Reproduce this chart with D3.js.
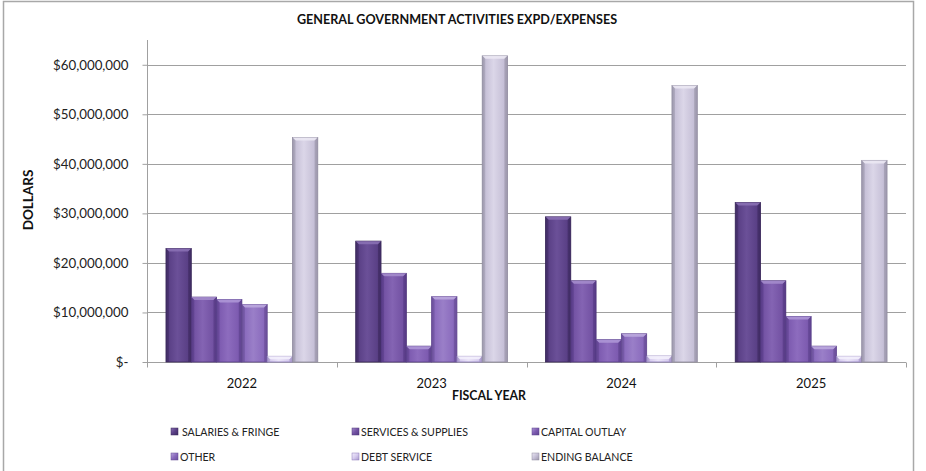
<!DOCTYPE html>
<html>
<head>
<meta charset="utf-8">
<script src="https://cdn.jsdelivr.net/npm/d3@7/dist/d3.min.js"></script>
<style>
  html, body { margin: 0; padding: 0; background: #fff; }
  svg { display: block; font-family: Lato, "Open Sans", sans-serif; }
</style>
</head>
<body>
<svg id="chart" width="926" height="471"></svg>
<script>
// Fiscal years on the category axis
const years = ["2022", "2023", "2024", "2025"];

// Expense / balance series
const seriesNames = ["SALARIES & FRINGE", "SERVICES & SUPPLIES", "CAPITAL OUTLAY", "OTHER", "DEBT SERVICE", "ENDING BALANCE"];

// Values in dollars, one entry per fiscal year
const salaries  = [22900000, 24400000, 29300000, 32200000];
const services  = [13100000, 17900000, 16400000, 16400000];
const capital   = [12600000,  3200000,  4500000,  9200000];
const other     = [11600000, 13200000,  5700000,  3200000];
const debt      = [ 1150000,  1150000,  1200000,  1150000];
const ending    = [45300000, 61800000, 55800000, 40700000];

// Dollar axis ticks
const yTicks = [0, 10000000, 20000000, 30000000, 40000000, 50000000, 60000000];

const seriesValues = [salaries, services, capital, other, debt, ending];

// Fill palettes per series: edge, body, highlight, bevel, outline
const palettes = [
  { edge: "#3f2b63", body: "#5a4086", hi: "#6b5098", bevel: "#8a70b4", line: "#3a2858" },
  { edge: "#563a85", body: "#7352a3", hi: "#8464b3", bevel: "#a48ccc", line: "#4e3578" },
  { edge: "#5f4290", body: "#7d5bb0", hi: "#8d6cbe", bevel: "#ad96d6", line: "#57408a" },
  { edge: "#6a4f9a", body: "#8a6bbd", hi: "#9a7fc8", bevel: "#bba8de", line: "#62498f" },
  { edge: "#a898cc", body: "#d6cbee", hi: "#ebe5f8", bevel: "#f3effc", line: "#8a79b8" },
  { edge: "#9c97ab", body: "#c6c0d7", hi: "#dbd6e8", bevel: "#ebe8f3", line: "#8f8a9f" }
];

const svg = d3.select("#chart");

// Outer chart frame
svg.append("rect")
  .attr("x", 3.5).attr("y", 1.5)
  .attr("width", 910).attr("height", 480)
  .attr("fill", "#fff")
  .attr("stroke", "#a8a8a8").attr("stroke-width", 1.5);

const plot = { left: 147, right: 906, top: 40, bottom: 362 };

const x0 = d3.scaleBand().domain(years).range([plot.left, plot.right]).paddingInner(0).paddingOuter(0);
const x1 = d3.scaleBand().domain(d3.range(seriesNames.length)).range([0, x0.bandwidth()])
  .paddingInner(0).paddingOuter(0.75);
const y = d3.scaleLinear().domain([0, 65000000]).range([plot.bottom, plot.top]);

// Gradients
const defs = svg.append("defs");
palettes.forEach((p, i) => {
  const g = defs.append("linearGradient").attr("id", "bar" + i)
    .attr("x1", "0%").attr("x2", "100%").attr("y1", "0%").attr("y2", "0%");
  [[0, p.edge], [0.12, p.body], [0.45, p.hi], [0.85, p.body], [1, p.edge]].forEach(([o, c]) =>
    g.append("stop").attr("offset", o).attr("stop-color", c));
  const lg = defs.append("linearGradient").attr("id", "leg" + i)
    .attr("x1", "0%").attr("x2", "100%").attr("y1", "0%").attr("y2", "100%");
  [[0, p.bevel], [0.5, p.body], [1, p.edge]].forEach(([o, c]) =>
    lg.append("stop").attr("offset", o).attr("stop-color", c));
});

// Horizontal gridlines
svg.append("g").selectAll("line").data(yTicks.filter(d => d > 0)).join("line")
  .attr("x1", plot.left).attr("x2", plot.right)
  .attr("y1", d => Math.round(y(d)) + 0.5).attr("y2", d => Math.round(y(d)) + 0.5)
  .attr("stroke", "#a0a0a0").attr("stroke-width", 1);

// Y axis
const yAxis = d3.axisLeft(y).tickValues(yTicks).tickSize(5).tickPadding(14)
  .tickFormat(d => d === 0 ? "$-" : "$" + d3.format(",")(d));
const gy = svg.append("g").attr("transform", `translate(${plot.left + 0.5},0)`).call(yAxis);
gy.select(".domain").attr("stroke", "#a0a0a0").attr("d", `M0,${plot.top}V${plot.bottom + 0.5}`);
gy.selectAll(".tick line").attr("stroke", "#a0a0a0");
gy.selectAll(".tick text").attr("fill", "#222").attr("font-size", 13.3)
  .attr("font-family", "Lato, sans-serif");

// X axis baseline and category ticks
const xAxis = d3.axisBottom(x0).tickSize(0).tickPadding(16);
const gx = svg.append("g").attr("transform", `translate(0,${plot.bottom + 0.5})`).call(xAxis);
gx.select(".domain").attr("stroke", "#a0a0a0").attr("d", `M${plot.left},0H${plot.right}`);
gx.selectAll(".tick text").attr("fill", "#111").attr("font-size", 13)
  .attr("font-family", "Lato, sans-serif");
const bounds = years.map(d => x0(d)).concat([plot.right]);
gx.append("g").selectAll("line").data(bounds).join("line")
  .attr("x1", d => Math.round(d) + 0.5).attr("x2", d => Math.round(d) + 0.5)
  .attr("y1", 0).attr("y2", 5).attr("stroke", "#a0a0a0");

// Bars
const groups = svg.append("g").selectAll("g").data(years).join("g")
  .attr("transform", d => `translate(${x0(d)},0)`);

groups.each(function (yr, yi) {
  const g = d3.select(this);
  seriesValues.forEach((vals, si) => {
    const v = vals[yi];
    const bx = x1(si), bw = x1.bandwidth();
    const by = y(v), bh = y(0) - y(v);
    const p = palettes[si];
    const b = Math.min(3, bh / 2);
    g.append("rect")
      .attr("x", bx).attr("y", by).attr("width", bw).attr("height", bh)
      .attr("fill", `url(#bar${si})`)
      .attr("stroke", p.line).attr("stroke-width", 0.8);
    // bevelled top face
    g.append("path")
      .attr("d", `M${bx},${by}L${bx + bw},${by}L${bx + bw - b},${by + b}L${bx + b},${by + b}Z`)
      .attr("fill", p.bevel).attr("opacity", 0.9);
    // bevelled side edges
    g.append("path")
      .attr("d", `M${bx},${by}L${bx + b},${by + b}L${bx + b},${by + bh}L${bx},${by + bh}Z`)
      .attr("fill", p.edge).attr("opacity", 0.5);
    g.append("path")
      .attr("d", `M${bx + bw},${by}L${bx + bw - b},${by + b}L${bx + bw - b},${by + bh}L${bx + bw},${by + bh}Z`)
      .attr("fill", p.edge).attr("opacity", 0.6);
  });
});

// Title
svg.append("text")
  .attr("x", 457).attr("y", 24)
  .attr("text-anchor", "middle")
  .attr("font-size", 12.6).attr("font-weight", "bold").attr("fill", "#111")
  .text("GENERAL GOVERNMENT ACTIVITIES EXPD/EXPENSES");

// Axis titles
svg.append("text")
  .attr("x", 489).attr("y", 400)
  .attr("text-anchor", "middle")
  .attr("font-size", 12.3).attr("font-weight", "bold").attr("fill", "#111")
  .text("FISCAL YEAR");

svg.append("text")
  .attr("transform", "translate(33,200) rotate(-90)")
  .attr("text-anchor", "middle")
  .attr("font-size", 13.5).attr("font-weight", "bold").attr("fill", "#111")
  .text("DOLLARS");

// Legend: three columns, two rows
const legCols = [171, 352, 532];
const legRows = [428, 453];
const legend = svg.append("g").selectAll("g").data(seriesNames).join("g")
  .attr("transform", (d, i) => `translate(${legCols[i % 3]},${legRows[Math.floor(i / 3)]})`);
legend.append("rect")
  .attr("x", 0).attr("y", 0).attr("width", 7).attr("height", 7)
  .attr("fill", (d, i) => `url(#leg${i})`)
  .attr("stroke", (d, i) => palettes[i].line).attr("stroke-width", 0.5);
legend.append("text")
  .attr("x", (d, i) => i === 0 ? 11 : 9).attr("y", 7.5)
  .attr("font-size", 10.6).attr("fill", "#222")
  .text(d => d);
</script>
</body>
</html>
